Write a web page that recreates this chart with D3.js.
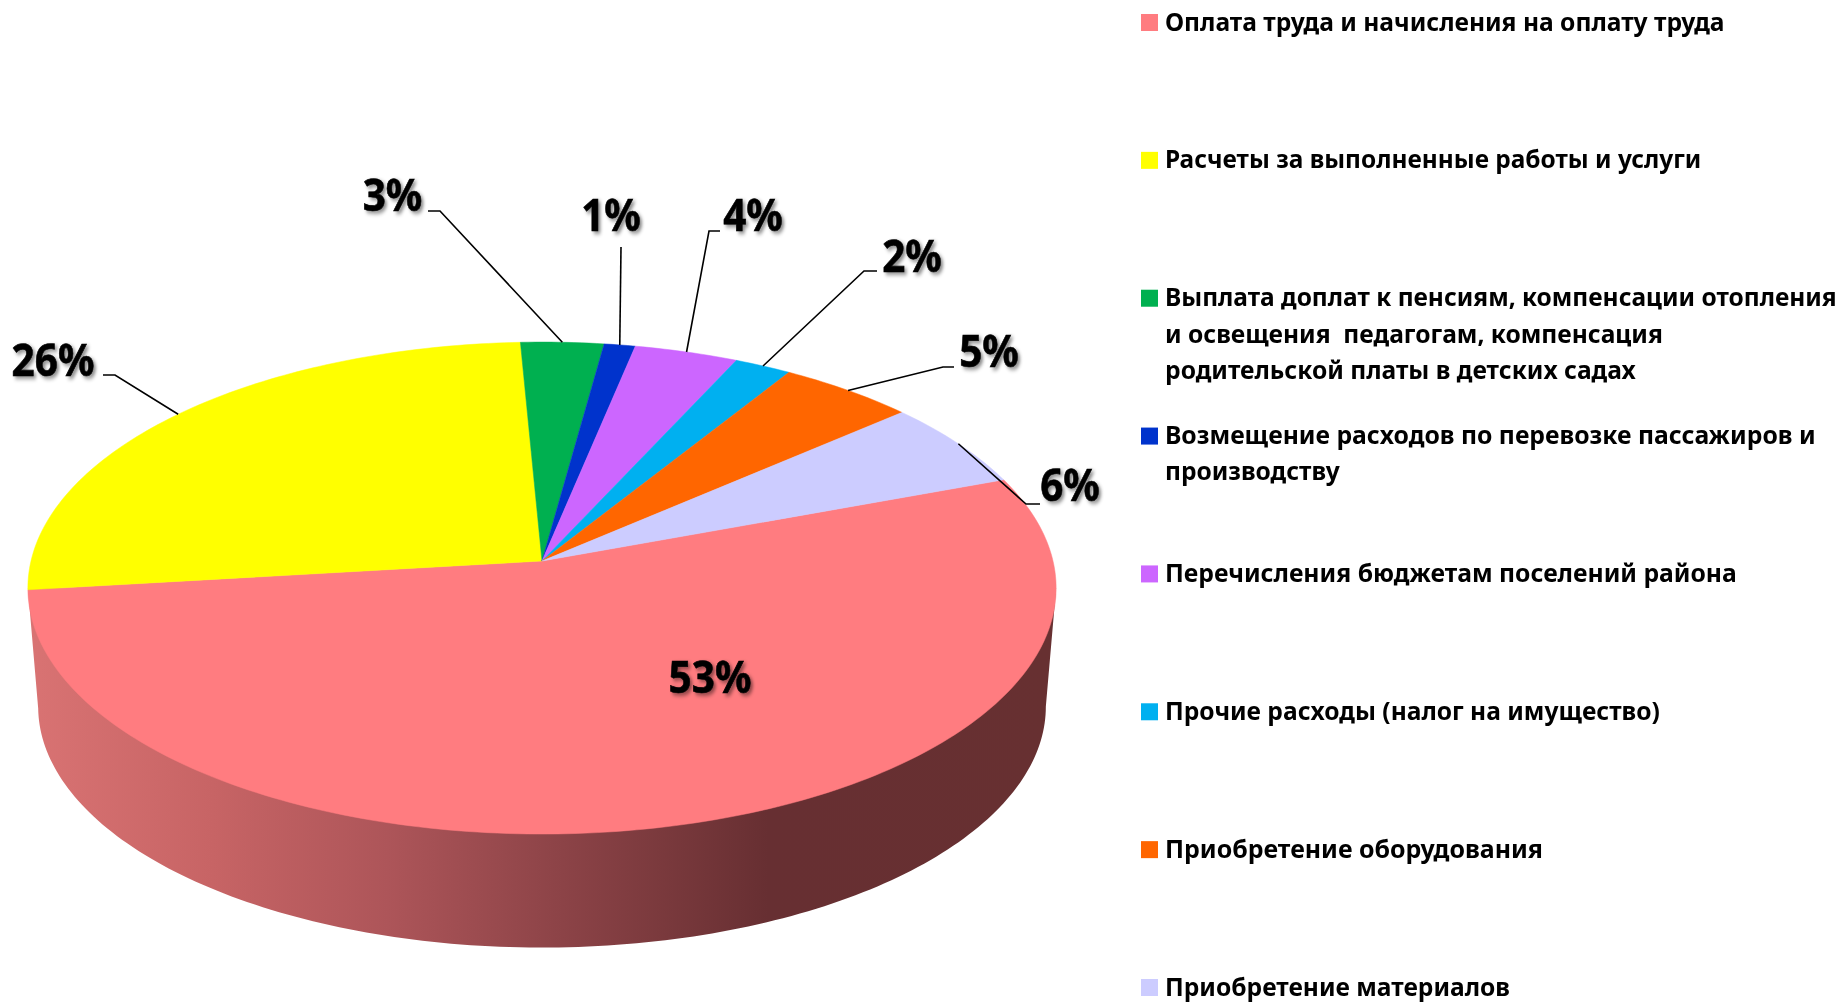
<!DOCTYPE html>
<html><head><meta charset="utf-8">
<script src="https://cdn.jsdelivr.net/npm/d3@7"></script>
<style>
html,body{margin:0;padding:0;background:#fff}
svg{display:block;filter:blur(0.35px)}
text{font-family:"Noto Sans","Open Sans",sans-serif;font-weight:700;fill:#000;white-space:pre}
</style></head><body>
<svg id="c" width="1841" height="1002"></svg>
<script>
const categories = [
 ["Оплата труда и начисления на оплату труда"],
 ["Расчеты за выполненные работы и услуги"],
 ["Выплата доплат к пенсиям, компенсации отопления","и освещения  педагогам, компенсация","родительской платы в детских садах"],
 ["Возмещение расходов по перевозке пассажиров и","производству"],
 ["Перечисления бюджетам поселений района"],
 ["Прочие расходы (налог на имущество)"],
 ["Приобретение оборудования"],
 ["Приобретение материалов"]
];
const values = [53.78, 26.12, 2.9, 1.09, 3.63, 1.99, 4.76, 5.74];
const valueLabels = ["53%","26%","3%","1%","4%","2%","5%","6%"];
const colors = ["#FF7C80","#FFFF00","#00B050","#0033CC","#CC66FF","#00B0F0","#FF6600","#CCCCFF"];

// layout: label centre and leader elbow for each slice (null = no leader)
const labelPos = [[710,677.5],[53,360.5],[392.5,195.5],[611,215.5],[753,215.5],[912,256.5],[989,351.5],[1070,485.5]];
const elbows   = [null,[[103,375],[115,375]],[[428,211],[440,211]],[[621,247],[621,247]],[[720,231],[709,231]],[[877,271],[864,271]],[[954,367],[943,367]],[[1040,504],[1026,504]]];
const legendWidths = [560,536.5,672,498,471,651,175,572,495,378,345];

const svg = d3.select("#c");
const defs = svg.append("defs");

// perspective disc
const apex = {x:542, y:561};
const K = -0.11, A = 243, C = 511;
const project = (angle, r=1, dy=0, s=1) => {
  const u = r*Math.sin(angle), v = -r*Math.cos(angle), w = 1 + K*v;
  return [apex.x + s*C*u/w, apex.y + dy + s*A*v/w];
};
const deg = Math.PI/180;
const line = d3.line();

const startDeg = 69.7;
const pie = d3.pie().sort(null).value(d=>d).startAngle(startDeg*deg).endAngle((startDeg+360)*deg);
const arcs = pie(values);

// side wall
const grad = defs.append("linearGradient").attr("id","side").attr("gradientUnits","userSpaceOnUse")
  .attr("x1",28).attr("x2",1056).attr("y1",0).attr("y2",0);
[[0,"#d97373"],[0.18,"#c76465"],[0.35,"#ad5559"],[0.52,"#8c4347"],[0.72,"#672f32"],[1,"#673031"]]
  .forEach(([o,c])=>grad.append("stop").attr("offset",o).attr("stop-color",c));

const depth = 119, shrink = 0.98, wide = 96.3;
const lowerRim = d3.range(wide, 360-wide+0.01, 1).map(a => project(a*deg, 1, depth, shrink));
svg.append("path")
  .attr("d", line([project(wide*deg), ...lowerRim, project(-wide*deg)]) + "Z")
  .attr("fill","url(#side)");

// top slices
svg.append("g").selectAll("path").data(arcs).join("path")
  .attr("d", d => {
    const n = Math.max(2, Math.ceil((d.endAngle-d.startAngle)/deg));
    const pts = d3.range(n+1).map(i => project(d.startAngle + (d.endAngle-d.startAngle)*i/n));
    return line([[apex.x,apex.y], ...pts]) + "Z";
  })
  .attr("fill",(d,i)=>colors[i])
  .attr("stroke",(d,i)=>colors[i]).attr("stroke-width",0.5);

// leaders
svg.append("g").selectAll("path").data(arcs.filter((d,i)=>elbows[i])).join("path")
  .attr("d", d => {
    const rim = project((d.startAngle+d.endAngle)/2);
    return line([...elbows[d.index], rim]);
  })
  .attr("fill","none").attr("stroke","#000").attr("stroke-width",1.6);

// shadow for data labels
const f = defs.append("filter").attr("id","sh").attr("x","-20%").attr("y","-20%").attr("width","150%").attr("height","150%");
f.append("feDropShadow").attr("dx",2.5).attr("dy",2.5).attr("stdDeviation",2).attr("flood-color","#000").attr("flood-opacity",0.45);

// data labels
const labelScaleX = 0.92;
svg.append("g").selectAll("text").data(arcs).join("text")
  .text(d => valueLabels[d.index])
  .attr("transform",d=>{const p=labelPos[d.index];return `translate(${p[0]},${p[1]}) scale(${labelScaleX},1)`;})
  .attr("text-anchor","middle").attr("dy","0.36em")
  .attr("font-size",44).attr("stroke","#000").attr("stroke-width",0.6).attr("filter","url(#sh)");

// legend
const rowY = d3.scaleLinear().domain([0,7]).range([22.5,987.5]);
const legend = svg.append("g");
const fs = 25.5;
let lineIdx = 0;
categories.forEach((lines,i)=>{
  legend.append("rect").attr("x",1141).attr("y",rowY(i)-8.5).attr("width",17).attr("height",17).attr("fill",colors[i]);
  lines.forEach((t,j)=>{
    const el = legend.append("text").attr("dy","0.35em").attr("font-size",fs).text(t);
    const sx = legendWidths[lineIdx++] / el.node().getComputedTextLength();
    el.attr("transform",`translate(1165,${rowY(i)+j*36.2-0.8}) scale(${sx},1)`);
  });
});
</script></body></html>
